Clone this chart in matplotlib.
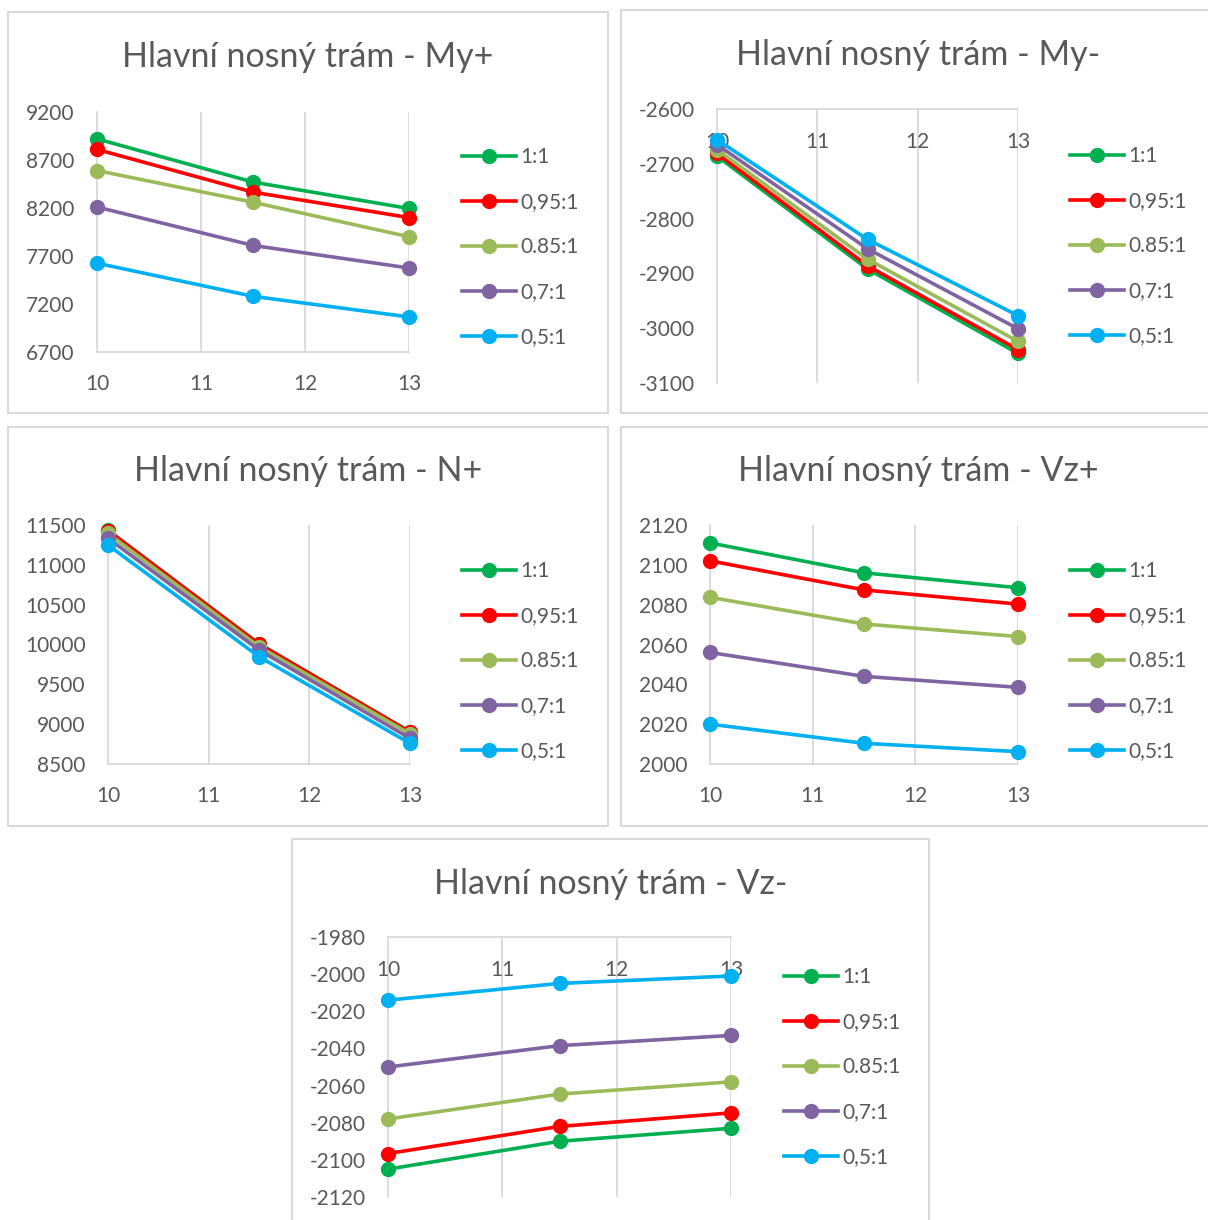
import matplotlib

matplotlib.use("Agg")
import matplotlib.pyplot as plt
from matplotlib.patches import Rectangle

W, H = 1208, 1220
plt.rcParams["font.family"] = ["Lato", "DejaVu Sans"]
plt.rcParams["axes.unicode_minus"] = False

TEXT = "#595959"
GRID = "#D9D9D9"

# span of the main beam [m]
SPANS = [10, 11.5, 13]
RATIOS = ["1:1", "0,95:1", "0.85:1", "0,7:1", "0,5:1"]
COLORS = ["#00B050", "#FF0000", "#9BBB59", "#8064A2", "#00B0F0"]

# one row per ratio, one value per span
MY_POS = [
    [8920, 8470, 8195],
    [8810, 8365, 8100],
    [8590, 8260, 7900],
    [8210, 7810, 7575],
    [7625, 7280, 7065],
]
MY_NEG = [
    [-2686, -2892, -3046],
    [-2681, -2886, -3039],
    [-2674, -2874, -3024],
    [-2665, -2855, -3001],
    [-2656, -2838, -2977],
]
N_POS = [
    [11435, 10010, 8905],
    [11430, 10005, 8900],
    [11395, 9973, 8877],
    [11333, 9931, 8822],
    [11249, 9847, 8759],
]
VZ_POS = [
    [2111, 2096, 2088.5],
    [2102, 2087.4, 2080.3],
    [2083.7, 2070.3, 2064],
    [2056, 2044, 2038.5],
    [2020, 2010.4, 2006.2],
]
VZ_NEG = [
    [-2105, -2090, -2083],
    [-2096.6, -2082, -2074.7],
    [-2078, -2064.6, -2058],
    [-2050, -2038.5, -2033],
    [-2014, -2005, -2001],
]


def fx(px):
    return px / W


def fy(py):
    return 1 - py / H


def panel(fig, name, data, frame, plot, ylim, step, title_y, legend_at, top_axis=False):
    # chart frame, kept behind the axes
    x0, y0, x1, y1 = frame
    fig.patches.append(Rectangle((fx(x0), fy(y1)), fx(x1 - x0), (y1 - y0) / H,
                                 transform=fig.transFigure, facecolor="white",
                                 edgecolor=GRID, lw=1.5, zorder=-1))
    fig.text(fx((x0 + x1) / 2), fy(title_y), f"Hlavní nosný trám - {name}",
             ha="center", va="center", fontsize=24.5, color=TEXT)

    px0, py0, px1, py1 = plot
    ax = fig.add_axes([fx(px0), fy(py1), fx(px1 - px0), (py1 - py0) / H])
    ax.patch.set_alpha(0)
    ax.set_xlim(10, 13)
    ax.set_ylim(*ylim)
    ax.set_xticks([10, 11, 12, 13])
    ax.set_yticks(range(ylim[0], ylim[1] + 1, step))
    for x in [11, 12, 13]:
        ax.axvline(x, color=GRID, lw=1.3, zorder=0)

    for s in ax.spines.values():
        s.set_visible(False)
    ax.spines["left"].set_visible(True)
    ax.spines["top" if top_axis else "bottom"].set_visible(True)
    for s in ax.spines.values():
        s.set_color(GRID)
        s.set_linewidth(1.3)
        s.set_zorder(0.5)

    ax.tick_params(axis="both", length=0, labelsize=15, labelcolor=TEXT)
    ax.tick_params(axis="y", pad=16)
    if top_axis:
        ax.tick_params(axis="x", labeltop=True, labelbottom=False, pad=-31)
    else:
        ax.tick_params(axis="x", pad=16)

    for label, color, ys in zip(RATIOS, COLORS, data):
        ax.plot(SPANS, ys, color=color, lw=2.6, marker="o", ms=10,
                label=label, clip_on=False, zorder=2)

    lx, ly = legend_at
    ax.legend(loc="center left", bbox_to_anchor=(fx(lx), fy(ly)),
              bbox_transform=fig.transFigure, frameon=False, fontsize=15,
              labelcolor=TEXT, borderpad=0, borderaxespad=0,
              handlelength=2.6, handletextpad=0.2, labelspacing=1.2,
              numpoints=1)
    return ax


fig = plt.figure(figsize=(W / 100, H / 100), dpi=100)

panel(fig, "My+", MY_POS, (8, 12, 608, 413), (97, 112, 409, 352),
      (6700, 9200), 500, 57, (462, 247))
panel(fig, "My-", MY_NEG, (621, 10, 1216, 413), (717, 109, 1018, 383),
      (-3100, -2600), 100, 55, (1070, 246), top_axis=True)
panel(fig, "N+", N_POS, (8, 427, 608, 826), (108, 525, 410, 764),
      (8500, 11500), 500, 471, (462, 661))
panel(fig, "Vz+", VZ_POS, (621, 427, 1216, 826), (710, 525, 1018, 764),
      (2000, 2120), 20, 471, (1070, 661))
panel(fig, "Vz-", VZ_NEG, (292, 839, 929, 1230), (388, 937, 731, 1197),
      (-2120, -1980), 20, 884, (784, 1067), top_axis=True)

fig.savefig("out.png", dpi=100)
